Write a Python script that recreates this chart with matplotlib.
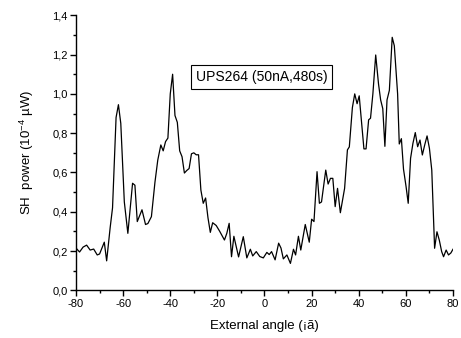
import matplotlib
matplotlib.use("Agg")
import matplotlib.pyplot as plt
from matplotlib.ticker import MultipleLocator

angle = [-80, -78.5, -77, -75.5, -74, -72.5, -71, -70, -68, -67, -65.5, -64.5, -63, -62, -61,
         -59.5, -58, -56, -55, -54, -52, -50.5, -49.5, -48, -46.5, -45.3, -44, -43, -42, -41,
         -40, -39, -38, -37, -36, -35, -34, -33, -32, -31, -30, -29, -28, -27, -26, -25, -24,
         -23, -22, -20.5, -19, -17, -16, -15, -14, -13, -11, -9, -7.5, -6, -5, -3.5, -2, -0.5,
         1, 2, 3, 4.5, 6, 7, 8, 9.5, 11, 12.3, 13.2, 14.4, 15.4, 17.3, 19, 20, 21, 22.3, 23.3,
         24.2, 26, 27, 28, 29, 30, 31, 32.2, 34, 35.2, 36, 37.3, 38.3, 39.3, 40.2, 42.2, 43.1,
         44.2, 45, 46, 47.2, 48.4, 49.3, 50.2, 51.1, 52, 53, 54.2, 55.1, 56.5, 57.2, 58.1, 59,
         60.1, 61, 62, 63, 64, 65, 66, 67, 68, 69, 70, 71, 72.2, 73.2, 74.2, 75.2, 76, 77.1,
         78.1, 79.1, 80]
power = [0.215, 0.195, 0.22, 0.23, 0.205, 0.21, 0.18, 0.185, 0.245, 0.15, 0.32, 0.42, 0.88, 0.945, 0.85,
         0.45, 0.29, 0.545, 0.535, 0.35, 0.41, 0.335, 0.34, 0.375, 0.55, 0.663, 0.74, 0.71, 0.757, 0.775,
         1.0, 1.10, 0.89, 0.855, 0.71, 0.68, 0.597, 0.61, 0.62, 0.695, 0.70, 0.69, 0.69, 0.51, 0.443, 0.47, 0.37,
         0.295, 0.344, 0.33, 0.30, 0.256, 0.29, 0.341, 0.171, 0.275, 0.17, 0.273, 0.165, 0.209, 0.175, 0.197, 0.172, 0.165,
         0.193, 0.182, 0.197, 0.155, 0.24, 0.215, 0.16, 0.18, 0.137, 0.209, 0.18, 0.275, 0.205, 0.335, 0.245, 0.362, 0.35, 0.604, 0.443,
         0.45, 0.612, 0.541, 0.57, 0.57, 0.426, 0.519, 0.395, 0.519, 0.715, 0.73, 0.93, 1.0, 0.95, 0.99, 0.72, 0.72,
         0.868, 0.876, 1.0, 1.198, 1.05, 0.969, 0.925, 0.733, 0.969, 1.018, 1.288, 1.245, 1.0, 0.745, 0.772, 0.617,
         0.527, 0.443, 0.672, 0.748, 0.803, 0.731, 0.765, 0.689, 0.74, 0.786, 0.723, 0.612, 0.214, 0.298, 0.255, 0.197, 0.171, 0.205,
         0.18, 0.19, 0.209]

xticks = [-80, -60, -40, -20, 0, 20, 40, 60, 80]
xticklabels = ["-80", "-60", "-40", "-20", "0", "20", "40", "60", "80"]
yticks = [0.0, 0.2, 0.4, 0.6, 0.8, 1.0, 1.2, 1.4]
yticklabels = ["0,0", "0,2", "0,4", "0,6", "0,8", "1,0", "1,2", "1,4"]
label_text = "UPS264 (50nA,480s)"

plt.rcParams['font.family'] = ['Liberation Sans', 'DejaVu Sans']
plt.rcParams['mathtext.default'] = 'regular'

fig = plt.figure(figsize=(4.61, 3.38), dpi=100)
ax = fig.add_axes([0.1649, 0.1411, 0.8177, 0.8136])
ax.plot(angle, power, color='black', lw=0.9)
ax.set_xlim(-80, 80)
ax.set_ylim(0, 1.4)
ax.spines['top'].set_visible(False)
ax.spines['right'].set_visible(False)
for s in ['left', 'bottom']:
    ax.spines[s].set_linewidth(1.0)
ax.set_xticks(xticks)
ax.set_xticklabels(xticklabels)
ax.set_yticks(yticks)
ax.set_yticklabels(yticklabels)
ax.xaxis.set_minor_locator(MultipleLocator(10))
ax.yaxis.set_minor_locator(MultipleLocator(0.1))
ax.tick_params(which='major', direction='out', length=4, width=1.0, labelsize=8, pad=2)
ax.tick_params(which='minor', direction='out', length=2.5, width=1.0)
ax.set_xlabel("External angle (¡ã)", fontsize=9.5, labelpad=8)
ax.set_ylabel("SH  power (10$^{-4}$ µW)", fontsize=9.5, labelpad=12)
ax.text(-1.2, 1.086, label_text, fontsize=10, ha='center', va='center',
        bbox=dict(boxstyle='square,pad=0.35', fc='white', ec='black', lw=0.8))
fig.savefig("out.png", dpi=100)
